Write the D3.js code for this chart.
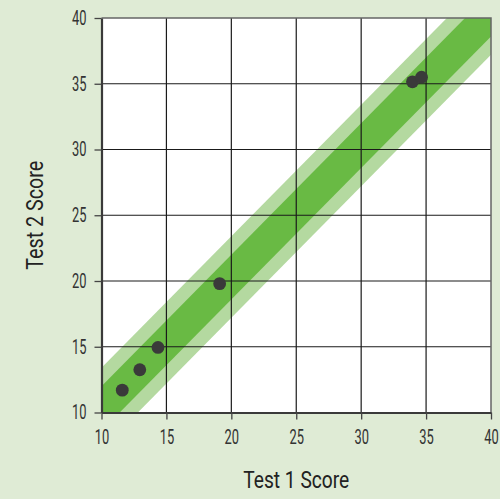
<!DOCTYPE html>
<html>
<head>
<meta charset="utf-8">
<script src="https://cdn.jsdelivr.net/npm/d3@7"></script>
<style>
  body { margin: 0; background: #dfebd5; }
  svg { display: block; }
  .tick text { font-family: Roboto, "Liberation Sans Narrow", sans-serif; font-size: 20px; fill: #333; }
  .title { font-family: Roboto, "Liberation Sans Narrow", sans-serif; font-size: 23px; fill: #222; }
</style>
</head>
<body>
<div id="chart"></div>
<script>
// data
var test1 = [11.6, 12.95, 14.35, 19.1, 33.95, 34.65];
var test2 = [11.7, 13.25, 14.95, 19.8, 35.15, 35.5];
var tickValues = [10, 15, 20, 25, 30, 35, 40];
// band around the line y = x (offset, half widths in score units)
var bandOffset = 0.3;
var bandWidths = [3.1, 1.7];
var bandColors = ["#b4d9a0", "#69ba44"];

var svgWidth = 500, svgHeight = 499;
var margin = { top: 18, right: 9, bottom: 86.5, left: 101.5 };
var width = svgWidth - margin.left - margin.right;
var height = svgHeight - margin.top - margin.bottom;

var svg = d3.select("#chart").append("svg")
  .attr("width", svgWidth)
  .attr("height", svgHeight);

svg.append("rect")
  .attr("width", svgWidth).attr("height", svgHeight)
  .attr("fill", "#dfebd5");

var g = svg.append("g")
  .attr("transform", `translate(${margin.left}, ${margin.top})`);

var x = d3.scaleLinear().domain([10, 40]).range([0, width]);
var y = d3.scaleLinear().domain([10, 40]).range([height, 0]);

g.append("rect")
  .attr("width", width).attr("height", height)
  .attr("fill", "#fff");

svg.append("clipPath").attr("id", "plot")
  .append("rect").attr("width", width).attr("height", height);

// bands
var bandGroup = g.append("g").attr("clip-path", "url(#plot)");
bandWidths.forEach(function(h, i) {
  var pts = [[0, bandOffset - h], [50, 50 + bandOffset - h], [50, 50 + bandOffset + h], [0, bandOffset + h]];
  bandGroup.append("polygon")
    .attr("points", pts.map(p => x(p[0]) + "," + y(p[1])).join(" "))
    .attr("fill", bandColors[i]);
});

// grid
g.append("g").selectAll("line")
  .data(tickValues.slice(1, -1))
  .enter().append("line")
  .attr("x1", d => x(d)).attr("x2", d => x(d))
  .attr("y1", 0).attr("y2", height)
  .attr("stroke", "#1a1a1a").attr("stroke-width", 1.2);
g.append("g").selectAll("line")
  .data(tickValues.slice(1, -1))
  .enter().append("line")
  .attr("y1", d => y(d)).attr("y2", d => y(d))
  .attr("x1", 0).attr("x2", width)
  .attr("stroke", "#1a1a1a").attr("stroke-width", 1.2);

// top / right border
g.append("path")
  .attr("d", `M0,0H${width}V${height}`)
  .attr("fill", "none").attr("stroke", "#666").attr("stroke-width", 1.5);

// dots
g.selectAll(".dot")
  .data(test1)
  .enter().append("circle")
  .attr("class", "dot")
  .attr("cx", d => x(d))
  .attr("cy", (d, i) => y(test2[i]))
  .attr("r", 6.4)
  .attr("fill", "#3a3a3a");

// axes
var xAxis = d3.axisBottom(x).tickValues(tickValues).tickSize(7).tickPadding(7).tickSizeOuter(0);
var yAxis = d3.axisLeft(y).tickValues(tickValues).tickSize(7).tickPadding(8).tickSizeOuter(0);

var gx = g.append("g").attr("transform", `translate(0, ${height})`).call(xAxis);
var gy = g.append("g").call(yAxis);

[gx, gy].forEach(function(a) {
  a.select(".domain").attr("stroke", "#3a3a3a").attr("stroke-width", 2.2);
  a.selectAll(".tick line").attr("stroke", "#444").attr("stroke-width", 1.3);
  a.selectAll(".tick text")
    .attr("textLength", 14.5)
    .attr("lengthAdjust", "spacingAndGlyphs");
});
gx.selectAll(".tick text").attr("dy", "0.85em");

// titles
svg.append("text")
  .attr("class", "title")
  .attr("x", margin.left + width / 2)
  .attr("y", 488)
  .attr("text-anchor", "middle")
  .attr("textLength", 106)
  .attr("lengthAdjust", "spacingAndGlyphs")
  .text("Test 1 Score");

svg.append("text")
  .attr("class", "title")
  .attr("transform", `translate(43, ${margin.top + height / 2}) rotate(-90)`)
  .attr("text-anchor", "middle")
  .attr("textLength", 109)
  .attr("lengthAdjust", "spacingAndGlyphs")
  .text("Test 2 Score");
</script>
</body>
</html>
